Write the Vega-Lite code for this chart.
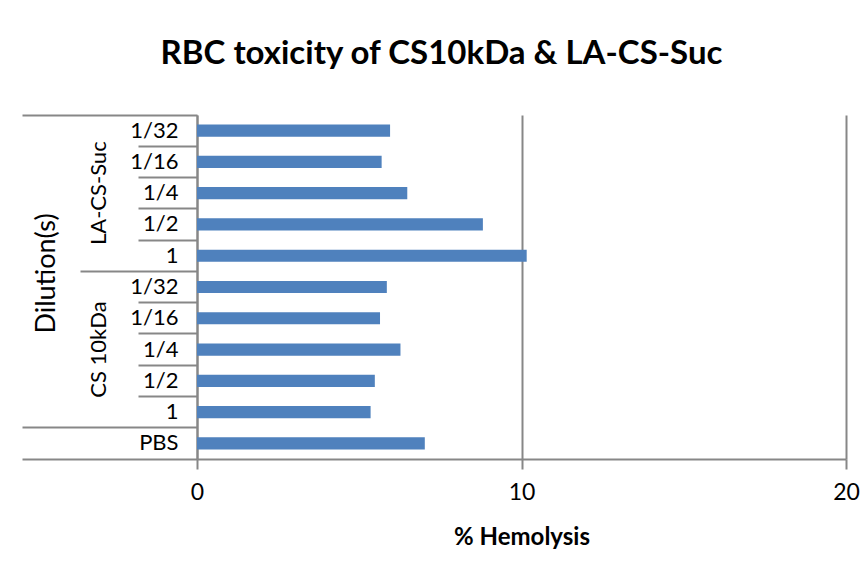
{
  "$schema": "https://vega.github.io/schema/vega-lite/v6.json",
  "width": 649,
  "height": 344,
  "autosize": {"type": "none"},
  "padding": {"left": 197, "top": 115, "right": 16, "bottom": 118},
  "background": "white",
  "title": {
    "text": "RBC toxicity of CS10kDa & LA-CS-Suc",
    "font": "Lato",
    "fontSize": 33,
    "fontWeight": "bold",
    "color": "black",
    "anchor": "middle",
    "frame": "group",
    "dx": -80,
    "baseline": "alphabetic",
    "offset": 17
  },
  "data": {
    "values": [
      {"key": "LA-CS-Suc|1/32", "group": "LA-CS-Suc", "dilution": "1/32", "hemolysis": 5.95},
      {"key": "LA-CS-Suc|1/16", "group": "LA-CS-Suc", "dilution": "1/16", "hemolysis": 5.69},
      {"key": "LA-CS-Suc|1/4", "group": "LA-CS-Suc", "dilution": "1/4", "hemolysis": 6.48},
      {"key": "LA-CS-Suc|1/2", "group": "LA-CS-Suc", "dilution": "1/2", "hemolysis": 8.81},
      {"key": "LA-CS-Suc|1", "group": "LA-CS-Suc", "dilution": "1", "hemolysis": 10.16},
      {"key": "CS 10kDa|1/32", "group": "CS 10kDa", "dilution": "1/32", "hemolysis": 5.85},
      {"key": "CS 10kDa|1/16", "group": "CS 10kDa", "dilution": "1/16", "hemolysis": 5.64},
      {"key": "CS 10kDa|1/4", "group": "CS 10kDa", "dilution": "1/4", "hemolysis": 6.27},
      {"key": "CS 10kDa|1/2", "group": "CS 10kDa", "dilution": "1/2", "hemolysis": 5.48},
      {"key": "CS 10kDa|1", "group": "CS 10kDa", "dilution": "1", "hemolysis": 5.35},
      {"key": "PBS", "group": "", "dilution": "PBS", "hemolysis": 7.02}
    ]
  },
  "config": {
    "view": {"stroke": null},
    "scale": {"bandPaddingInner": 0, "bandPaddingOuter": 0},
    "font": "Lato"
  },
  "resolve": {"axis": {"y": "independent"}},
  "layer": [
    {
      "mark": {"type": "bar", "color": "#4F81BD", "height": {"band": 0.39}},
      "encoding": {
        "y": {
          "field": "key",
          "type": "nominal",
          "sort": null,
          "axis": {
            "orient": "left",
            "title": "Dilution(s)",
            "titleX": -151,
            "titleY": 158,
            "titleAngle": 270,
            "titleAlign": "center",
            "titleBaseline": "middle",
            "titleFont": "Lato",
            "titleFontSize": 27,
            "titleFontWeight": "normal",
            "titleColor": "black",
            "labelExpr": "indexof(datum.value, '|') >= 0 ? split(datum.value, '|')[1] : datum.value",
            "labelFont": "Lato",
            "labelFontSize": 22,
            "labelColor": "black",
            "labelAlign": "right",
            "labelBaseline": "middle",
            "labelPadding": 19,
            "labelOverlap": false,
            "ticks": false,
            "grid": false,
            "domain": true,
            "domainColor": "#878787",
            "domainWidth": 2
          }
        },
        "x": {
          "field": "hemolysis",
          "type": "quantitative",
          "scale": {"domain": [0, 20], "nice": false},
          "axis": {
            "values": [0, 10, 20],
            "title": "% Hemolysis",
            "titleFont": "Lato",
            "titleFontSize": 24,
            "titleFontWeight": "bold",
            "titleColor": "black",
            "titlePadding": 21,
            "labelFont": "Lato",
            "labelFontSize": 23,
            "labelColor": "black",
            "labelPadding": 12,
            "labelFlush": false,
            "labelBound": false,
            "grid": true,
            "gridColor": "#878787",
            "gridWidth": 2,
            "domainColor": "#878787",
            "domainWidth": 2,
            "tickColor": "#878787",
            "tickWidth": 2,
            "tickSize": 10
          }
        }
      }
    },
    {
      "mark": {"type": "bar", "opacity": 0},
      "encoding": {
        "y": {
          "field": "key",
          "type": "nominal",
          "sort": null,
          "axis": {
            "orient": "left",
            "title": null,
            "labels": false,
            "domain": false,
            "grid": false,
            "ticks": true,
            "bandPosition": 0,
            "tickColor": "#878787",
            "tickWidth": 2,
            "tickSize": {
              "condition": [
                {"test": "datum.value === 'LA-CS-Suc|1/32' || datum.value === 'PBS'", "value": 175},
                {"test": "datum.value === 'CS 10kDa|1/32'", "value": 117}
              ],
              "value": 59
            }
          }
        }
      }
    },
    {
      "mark": {"type": "bar", "opacity": 0},
      "encoding": {
        "y": {
          "field": "key",
          "type": "nominal",
          "sort": null,
          "axis": {
            "orient": "left",
            "title": null,
            "domain": false,
            "grid": false,
            "ticks": false,
            "labelExpr": "datum.value === 'LA-CS-Suc|1/4' ? 'LA-CS-Suc' : datum.value === 'CS 10kDa|1/4' ? 'CS 10kDa' : ''",
            "labelAngle": 270,
            "labelAlign": "center",
            "labelBaseline": "middle",
            "labelPadding": 99,
            "labelFont": "Lato",
            "labelFontSize": 22,
            "labelColor": "black",
            "labelOverlap": false,
            "labelBound": false
          }
        }
      }
    },
    {
      "mark": {"type": "bar", "opacity": 0},
      "encoding": {
        "y": {
          "field": "key",
          "type": "nominal",
          "sort": null,
          "axis": {
            "orient": "left",
            "title": null,
            "labels": false,
            "domain": false,
            "grid": false,
            "ticks": true,
            "bandPosition": 1,
            "tickColor": "#878787",
            "tickWidth": 2,
            "tickSize": 175,
            "tickOpacity": {
              "condition": {"test": "datum.value === 'PBS'", "value": 1},
              "value": 0
            }
          }
        }
      }
    }
  ]
}
